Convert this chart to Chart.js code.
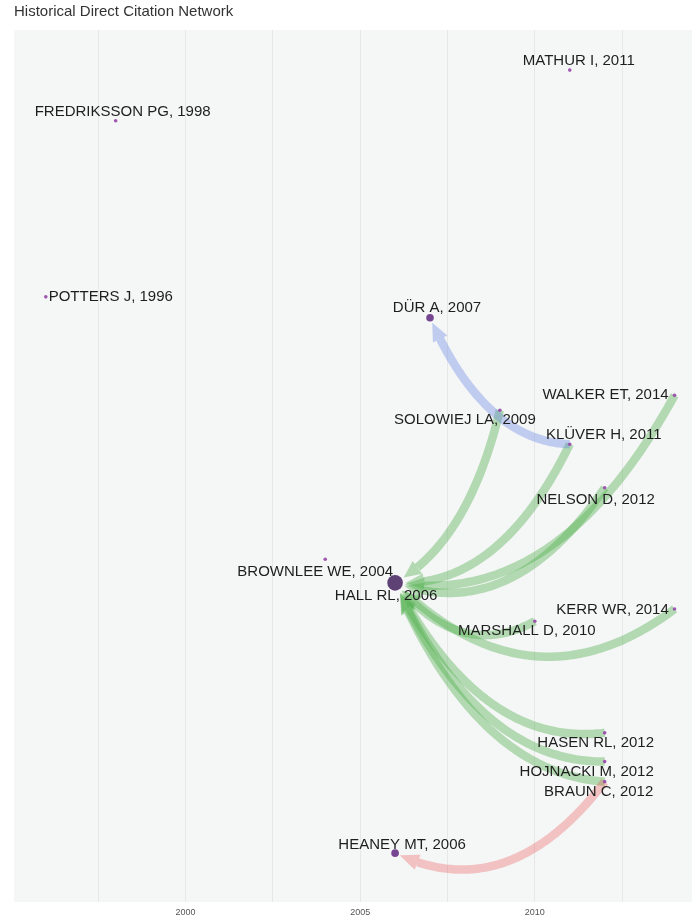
<!DOCTYPE html>
<html>
<head>
<meta charset="utf-8">
<title>Historical Direct Citation Network</title>
<script src="https://cdn.jsdelivr.net/npm/chart.js@4.4.1/dist/chart.umd.min.js"></script>
<style>
  html, body { margin: 0; padding: 0; background: #fff; }
  #wrap { width: 692px; height: 917px; }
</style>
</head>
<body>
<div id="wrap"><canvas id="graph"></canvas></div>
<script>
// papers in the historical direct citation network
const papers = [
  "FREDRIKSSON PG, 1998", "MATHUR I, 2011", "POTTERS J, 1996", "DÜR A, 2007",
  "SOLOWIEJ LA, 2009", "KLÜVER H, 2011", "WALKER ET, 2014", "NELSON D, 2012",
  "BROWNLEE WE, 2004", "HALL RL, 2006", "KERR WR, 2014", "MARSHALL D, 2010",
  "HASEN RL, 2012", "HOJNACKI M, 2012", "BRAUN C, 2012", "HEANEY MT, 2006"
];
const years = [1998, 2011, 1996, 2007, 2009, 2011, 2014, 2012, 2004, 2006, 2014, 2010, 2012, 2012, 2012, 2006];
// vertical coordinate from the network layout
const layoutY = [89.6, 95.4, 69.4, 67.0, 56.4, 52.5, 58.1, 47.5, 39.3, 36.6, 33.6, 32.2, 19.4, 16.1, 13.8, 5.6];
// cluster of each paper (1 = Hall group, 2 = Dür group, 3 = Heaney group)
const cluster = [0, 0, 0, 2, 1, 1, 1, 1, 0, 1, 1, 1, 1, 1, 1, 3];

// direct citations: citing[k] cites cited[k]
const citing = [
  "SOLOWIEJ LA, 2009", "KLÜVER H, 2011", "WALKER ET, 2014", "NELSON D, 2012",
  "KERR WR, 2014", "MARSHALL D, 2010", "HASEN RL, 2012", "HOJNACKI M, 2012",
  "BRAUN C, 2012", "KLÜVER H, 2011", "BRAUN C, 2012"
];
const cited = [
  "HALL RL, 2006", "HALL RL, 2006", "HALL RL, 2006", "HALL RL, 2006",
  "HALL RL, 2006", "HALL RL, 2006", "HALL RL, 2006", "HALL RL, 2006",
  "HALL RL, 2006", "DÜR A, 2007", "HEANEY MT, 2006"
];

const yearTicks = [2000, 2005, 2010];
const gridYears = [1997.5, 2000, 2002.5, 2005, 2007.5, 2010, 2012.5];

// label offsets from the node, px
const labelDx = [7, 9, 65, 7, -35, 34, -69, -9, -10, -9, -62, -8, -9, -18, -6, 7];
const labelDy = [-9, -9, 0, -10, 10, -9, -1, 12, 13, 13, 1, 10, 10, 10, 10, -8];

const FONT = '"Liberation Sans", Arial, Helvetica, sans-serif';
const edgeColors = { 1: 'rgba(77,175,74,0.4)', 2: 'rgba(95,125,225,0.35)', 3: 'rgba(235,60,60,0.28)' };

const timesCited = papers.map(p => cited.filter(c => c === p).length);
const radius = timesCited.map(n => 1.8 + 2 * Math.sqrt(n));
const nodeColor = radius.map(r => r > 6 ? 'rgba(80,50,105,0.92)' : r > 3 ? 'rgba(112,60,140,0.95)' : 'rgba(150,70,170,0.9)');

const panelBg = {
  id: 'panelBg',
  beforeDraw(chart) {
    const { ctx, chartArea: a } = chart;
    ctx.save();
    ctx.fillStyle = '#f5f6f6';
    ctx.fillRect(a.left, a.top, a.right - a.left, a.bottom - a.top);
    ctx.restore();
  }
};

// curved arrows between citing and cited paper
const citationEdges = {
  id: 'citationEdges',
  beforeDatasetsDraw(chart) {
    const { ctx, chartArea: area } = chart;
    const pts = chart.getDatasetMeta(0).data;
    const dist = (p, q) => Math.hypot(p[0] - q[0], p[1] - q[1]);
    ctx.save();
    ctx.beginPath();
    ctx.rect(area.left, area.top, area.right - area.left, area.bottom - area.top);
    ctx.clip();
    citing.forEach((from, k) => {
      const si = papers.indexOf(from), ti = papers.indexOf(cited[k]);
      const a = pts[si], b = pts[ti];
      const dx = b.x - a.x, dy = b.y - a.y;
      const cx = (a.x + b.x) / 2 + 0.12 * dy;
      const cy = (a.y + b.y) / 2 - 0.43 * dx;
      const curve = [];
      for (let i = 0; i <= 100; i++) {
        const t = i / 100, u = 1 - t;
        curve.push([u * u * a.x + 2 * u * t * cx + t * t * b.x, u * u * a.y + 2 * u * t * cy + t * t * b.y]);
      }
      const end = [b.x, b.y];
      let tip = curve.length - 1;
      while (tip > 0 && dist(curve[tip], end) < radius[ti] + 1) tip--;
      let base = tip;
      while (base > 0 && dist(curve[base], curve[tip]) < 17) base--;
      const col = edgeColors[cluster[ti]];
      ctx.strokeStyle = col;
      ctx.lineWidth = 8.5;
      ctx.lineCap = 'butt';
      ctx.lineJoin = 'round';
      ctx.beginPath();
      ctx.moveTo(curve[0][0], curve[0][1]);
      for (let i = 1; i <= base; i++) ctx.lineTo(curve[i][0], curve[i][1]);
      ctx.stroke();
      const [tx, ty] = curve[tip], [bx, by] = curve[base];
      const l = Math.hypot(tx - bx, ty - by) || 1;
      const ux = (tx - bx) / l, uy = (ty - by) / l, hw = 8;
      ctx.fillStyle = col;
      ctx.beginPath();
      ctx.moveTo(tx, ty);
      ctx.lineTo(bx - uy * hw, by + ux * hw);
      ctx.lineTo(bx + uy * hw, by - ux * hw);
      ctx.closePath();
      ctx.fill();
    });
    ctx.restore();
  }
};

const paperLabels = {
  id: 'paperLabels',
  afterDatasetsDraw(chart) {
    const ctx = chart.ctx;
    const pts = chart.getDatasetMeta(0).data;
    ctx.save();
    ctx.font = '15px ' + FONT;
    ctx.fillStyle = '#1e1e1e';
    ctx.textAlign = 'center';
    ctx.textBaseline = 'middle';
    pts.forEach((p, i) => ctx.fillText(papers[i], p.x + labelDx[i], p.y + labelDy[i]));
    ctx.restore();
  }
};

const graph = document.getElementById('graph');
new Chart(graph, {
  type: 'scatter',
  data: {
    datasets: [{
      label: 'Papers',
      data: years.map((y, i) => ({ x: y, y: layoutY[i] })),
      pointRadius: radius,
      pointBackgroundColor: nodeColor,
      pointBorderWidth: 0
    }]
  },
  options: {
    responsive: true,
    maintainAspectRatio: false,
    animation: false,
    events: [],
    layout: { autoPadding: false, padding: { left: 14, right: 0, top: 0, bottom: 0 } },
    plugins: {
      legend: { display: false },
      tooltip: { enabled: false },
      title: {
        display: true,
        text: 'Historical Direct Citation Network',
        align: 'start',
        color: '#333',
        font: { family: FONT, size: 15, weight: 'normal' },
        padding: { top: 3, bottom: 9 }
      }
    },
    scales: {
      x: {
        type: 'linear',
        min: 1995.09,
        max: 2014.5,
        afterBuildTicks: s => { s.ticks = gridYears.map(v => ({ value: v })); },
        afterFit: s => { s.height = 15; },
        ticks: {
          autoSkip: false,
          maxRotation: 0,
          padding: 5.6,
          color: '#555',
          font: { family: FONT, size: 9 },
          callback: v => yearTicks.includes(v) ? String(v) : ''
        },
        grid: { color: '#e7e7e7', lineWidth: 1, drawTicks: false },
        border: { display: false }
      },
      y: { display: false, min: 0, max: 100 }
    }
  },
  plugins: [panelBg, citationEdges, paperLabels]
});
</script>
</body>
</html>
